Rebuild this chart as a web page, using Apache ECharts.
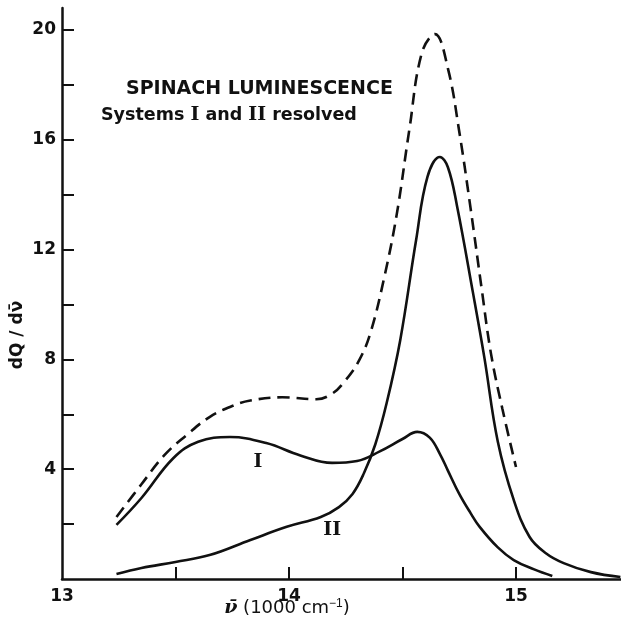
<!DOCTYPE html>
<html><head><meta charset="utf-8">
<script src="https://cdn.jsdelivr.net/npm/echarts@6/dist/echarts.min.js"></script>
<style>html,body{margin:0;padding:0;background:#fff}#c{width:621px;height:627px}</style>
</head><body><div id="c"></div>
<script>
// Total luminescence (dashed)
const totalX = [13.24,13.35,13.45,13.55,13.65,13.75,13.83,13.97,14.12,14.19,14.25,14.31,14.36,14.42,14.475,14.53,14.585,14.643,14.70,14.75,14.80,14.85,14.89,14.94,15.0];
const totalY = [2.26,3.45,4.5,5.25,5.9,6.3,6.5,6.62,6.55,6.75,7.25,7.98,9.0,11.0,13.3,16.36,19.16,19.85,18.6,16.3,13.5,10.5,8.2,6.2,4.08];
// System I
const sysIX = [13.24,13.35,13.49,13.6,13.74,13.9,14.05,14.19,14.3,14.4,14.5,14.565,14.62,14.665,14.70,14.75,14.80,14.84,14.92,14.99,15.08,15.16];
const sysIY = [1.97,2.95,4.4,5.0,5.17,4.95,4.5,4.23,4.3,4.65,5.1,5.36,5.15,4.55,3.95,3.1,2.4,1.9,1.15,0.69,0.35,0.11];
// System II
const sysIIX = [13.24,13.35,13.5,13.65,13.83,13.99,14.14,14.22,14.28,14.33,14.38,14.43,14.49,14.56,14.61,14.665,14.70,14.74,14.81,14.86,14.92,14.99,15.06,15.13,15.21,15.33,15.46];
const sysIIY = [0.18,0.4,0.62,0.87,1.42,1.9,2.26,2.62,3.1,3.85,4.9,6.4,8.7,12.35,14.65,15.37,15.0,13.6,10.45,8.1,5.0,2.88,1.53,0.95,0.58,0.25,0.07];
// Axis ticks and labels
const xTicks = [13.5,14,14.5,15];
const xLabels = [13,14,15];
const yTicks = [2,4,6,8,10,12,14,16,18,20];
const yLabels = [4,8,12,16,20];
// Curve annotations
const labelI = [13.863,4.26];
const labelII = [14.19,1.79];

const zip = (xs, ys) => xs.map((x,i)=>[x, ys[i]]);
const ink = '#111';
const chart = echarts.init(document.getElementById('c'), null, {renderer:'canvas'});
const annot = (coord, txt) => ({
  coord: coord, value: txt, symbol: 'circle', symbolSize: 0,
  label: {show:true, position:'inside', formatter: txt, color: ink,
    fontFamily: 'DejaVu Serif', fontWeight: 'bold', fontSize: 19}
});
chart.setOption({
  animation: false,
  backgroundColor: '#fff',
  grid: {left: 62, right: 0, top: 8, bottom: 48},
  xAxis: {
    type: 'value', min: 13, max: 15.4626,
    axisLine: {show: true, onZero: false, lineStyle: {color: ink, width: 2.5}},
    axisTick: {show: true, inside: true, length: 12, lineStyle: {color: ink, width: 2}, customValues: xTicks},
    axisLabel: {show: true, customValues: xLabels, margin: 9, color: ink,
      fontFamily: 'DejaVu Sans', fontSize: 17, fontWeight: 'bold'},
    splitLine: {show: false}
  },
  yAxis: {
    type: 'value', min: 0, max: 20.8,
    axisLine: {show: true, onZero: false, lineStyle: {color: ink, width: 2.5}},
    axisTick: {show: true, inside: true, length: 12, lineStyle: {color: ink, width: 2}, customValues: yTicks},
    axisLabel: {show: true, customValues: yLabels, margin: 6, color: ink,
      fontFamily: 'DejaVu Sans', fontSize: 17, fontWeight: 'bold'},
    splitLine: {show: false}
  },
  series: [
    {type: 'line', name: 'total', data: zip(totalX, totalY), showSymbol: false, smooth: 0.4,
      lineStyle: {color: ink, width: 2.6, type: [12, 7]}},
    {type: 'line', name: 'I', data: zip(sysIX, sysIY), showSymbol: false, smooth: 0.4,
      lineStyle: {color: ink, width: 2.6},
      markPoint: {data: [annot(labelI, 'I')]}},
    {type: 'line', name: 'II', data: zip(sysIIX, sysIIY), showSymbol: false, smooth: 0.4,
      lineStyle: {color: ink, width: 2.6},
      markPoint: {data: [annot(labelII, 'II')]}}
  ],
  graphic: [
    {type: 'text', left: 126, top: 80, style: {text: 'SPINACH LUMINESCENCE', fill: ink,
      font: 'bold 19px "DejaVu Sans"'}},
    {type: 'text', left: 101, top: 106, style: {
      text: 'Systems {r|I} and {r|II} resolved', fill: ink, font: 'bold 17.5px "DejaVu Sans"',
      rich: {r: {fontFamily: 'DejaVu Serif', fontWeight: 'bold', fontSize: 19, fill: ink}}}},
    {type: 'text', x: 18, y: 335, rotation: Math.PI/2, style: {text: 'dQ / dν\u0304', fill: ink,
      font: 'bold 17px "DejaVu Sans"', align: 'center', verticalAlign: 'middle'}},
    {type: 'text', x: 287, y: 608, style: {
      text: '{v|ν\u0304} (1000 cm{s|−1})', fill: ink, font: '18px "DejaVu Sans"',
      align: 'center', verticalAlign: 'middle',
      rich: {v: {fontFamily: 'DejaVu Serif', fontStyle: 'italic', fontWeight: 'bold', fontSize: 19, fill: ink},
             s: {fontSize: 12, verticalAlign: 'top', padding: [0,0,8,0], fill: ink}}}}
  ]
});
</script></body></html>
